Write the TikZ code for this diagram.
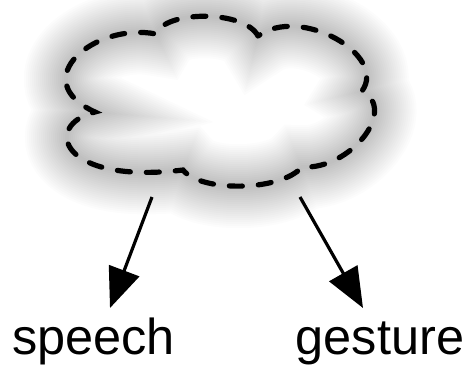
\documentclass[tikz,border=0pt]{standalone}
\usepackage{fontspec}
\setmainfont{Liberation Sans}
\usetikzlibrary{arrows.meta}
\newcommand\cloudoutline{(258,36)
  .. controls (245,10) and (165,10) .. (156,34)
  .. controls (95,22) and (25,80) .. (95,112)
  .. controls (42,125) and (60,185) .. (183,170)
  .. controls (200,192) and (280,192) .. (302,167)
  .. controls (350,170) and (398,110) .. (362,91)
  .. controls (388,55) and (300,5) .. (258,36) -- cycle}
\tikzset{
  cloudline/.style={draw=black, line width=5.2pt, line cap=round, dash pattern=on 13pt off 16pt},
  glow/.style={draw=black, opacity=0.011},
  arr/.style={line width=3.2pt, -{Triangle[length=40pt,width=32pt]}},
  lbl/.style={inner sep=0pt, anchor=base, font=\fontsize{50.5}{50}\selectfont}
}
\begin{document}
\begin{tikzpicture}[x=1pt,y=-1pt]
\useasboundingbox (0,0) rectangle (469,365);
\fill[white] (0,0) rectangle (469,365);
\foreach \w in {84,80,...,4}{
  \draw[glow, line width=\w pt] \cloudoutline;
}
\draw[cloudline] \cloudoutline;
\coordinate (s1) at (152,197);
\coordinate (s2) at (300,197);
\coordinate (t1) at (110,308);
\coordinate (t2) at (363,308);
\node[lbl] (speech) at (93.5,354) {speech};
\node[lbl] (gesture) at (380,354) {gesture};
\draw[arr] (s1) -- (t1);
\draw[arr] (s2) -- (t2);
\end{tikzpicture}
\end{document}
